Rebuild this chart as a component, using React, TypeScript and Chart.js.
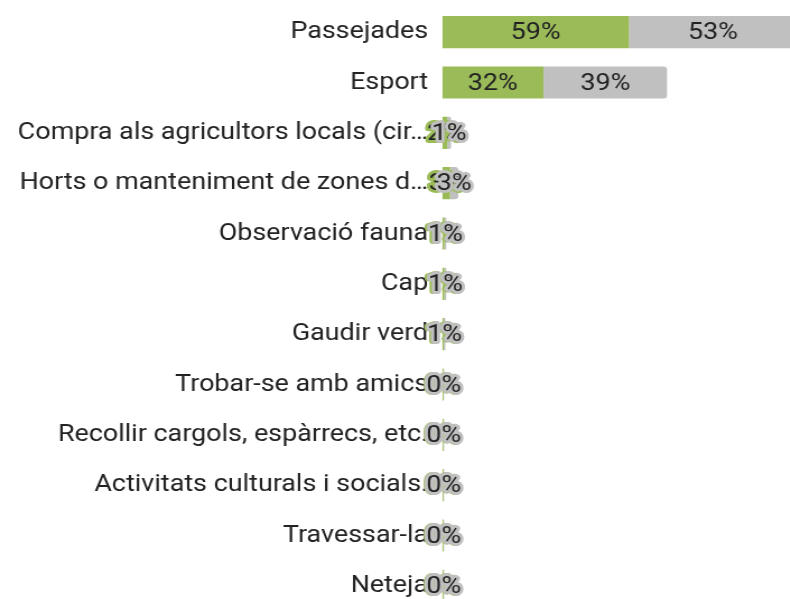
import React, { useEffect, useRef } from "react";
import { Chart, registerables } from "chart.js";

Chart.register(...registerables);

const categories = [
  "Passejades",
  "Esport",
  "Compra als agricultors locals (cir…",
  "Horts o manteniment de zones d…",
  "Observació fauna",
  "Cap",
  "Gaudir verd",
  "Trobar-se amb amics",
  "Recollir cargols, espàrrecs, etc.",
  "Activitats culturals i socials.",
  "Travessar-la",
  "Neteja",
];

const seriesGreen = [59, 32, 1.6, 2.5, 0.7, 0.7, 0.5, 0.4, 0.4, 0.4, 0.4, 0.4];
const seriesGrey = [53, 39, 1.2, 2.6, 0.6, 0.6, 0.5, 0.2, 0.2, 0.2, 0.2, 0.2];

const GREEN = "#9BBB59";
const GREY = "#C0C0C0";
const FONT = "Roboto";
const STRETCH = 1.12;
const CSS_W = 800;
const CSS_H = 612;
const CANVAS_W = Math.round(CSS_W / STRETCH);

const labelPlugin = {
  id: "valueLabels",
  afterDatasetsDraw(chart: any) {
    const ctx = chart.ctx;
    ctx.save();
    ctx.font = `24px ${FONT}`;
    ctx.textAlign = "center";
    ctx.textBaseline = "middle";
    ctx.lineJoin = "round";
    chart.data.datasets.forEach((ds: any, di: number) => {
      const meta = chart.getDatasetMeta(di);
      meta.data.forEach((bar: any, i: number) => {
        const v = ds.data[i];
        const txt = Math.round(v) + "%";
        const x = (bar.x + bar.base) / 2;
        const y = bar.y + 1;
        ctx.strokeStyle = ds.backgroundColor;
        ctx.lineWidth = 6;
        ctx.strokeText(txt, x, y);
        ctx.fillStyle = "#222222";
        ctx.fillText(txt, x, y);
      });
    });
    ctx.restore();
  },
};

export default function App() {
  const ref = useRef<HTMLCanvasElement | null>(null);
  useEffect(() => {
    if (!ref.current) return;
    const chart = new Chart(ref.current, {
      type: "bar",
      data: {
        labels: categories,
        datasets: [
          {
            data: seriesGreen,
            backgroundColor: GREEN,
            borderWidth: 0,
            borderRadius: 0,
            barPercentage: 0.64,
            categoryPercentage: 1,
          },
          {
            data: seriesGrey,
            backgroundColor: GREY,
            borderWidth: 0,
            borderRadius: 3,
            barPercentage: 0.64,
            categoryPercentage: 1,
          },
        ],
      },
      options: {
        indexAxis: "y",
        responsive: false,
        animation: false,
        devicePixelRatio: 1,
        layout: { padding: { top: 7, bottom: 1, left: 0, right: 0 } },
        plugins: {
          legend: { display: false },
          tooltip: { enabled: false },
        },
        scales: {
          x: {
            stacked: true,
            display: false,
            min: 0,
            max: 113,
          },
          y: {
            stacked: true,
            border: { display: false },
            grid: { display: false, drawTicks: false },
            ticks: {
              padding: 12.5,
              color: "#222222",
              font: { family: FONT, size: 24 },
            },
            afterFit(scale: any) {
              scale.width = 442 / STRETCH;
              scale.paddingTop = 0;
              scale.paddingBottom = 0;
            },
          },
        },
      },
      plugins: [labelPlugin],
    });
    return () => chart.destroy();
  }, []);
  return (
    <div style={{ position: "fixed", left: 0, top: 0, width: 790, height: 599, overflow: "hidden", background: "#fff" }}>
      <canvas
        ref={ref}
        width={CANVAS_W}
        height={CSS_H}
        style={{ display: "block", width: CSS_W + "px", height: CSS_H + "px" }}
      />
    </div>
  );
}
